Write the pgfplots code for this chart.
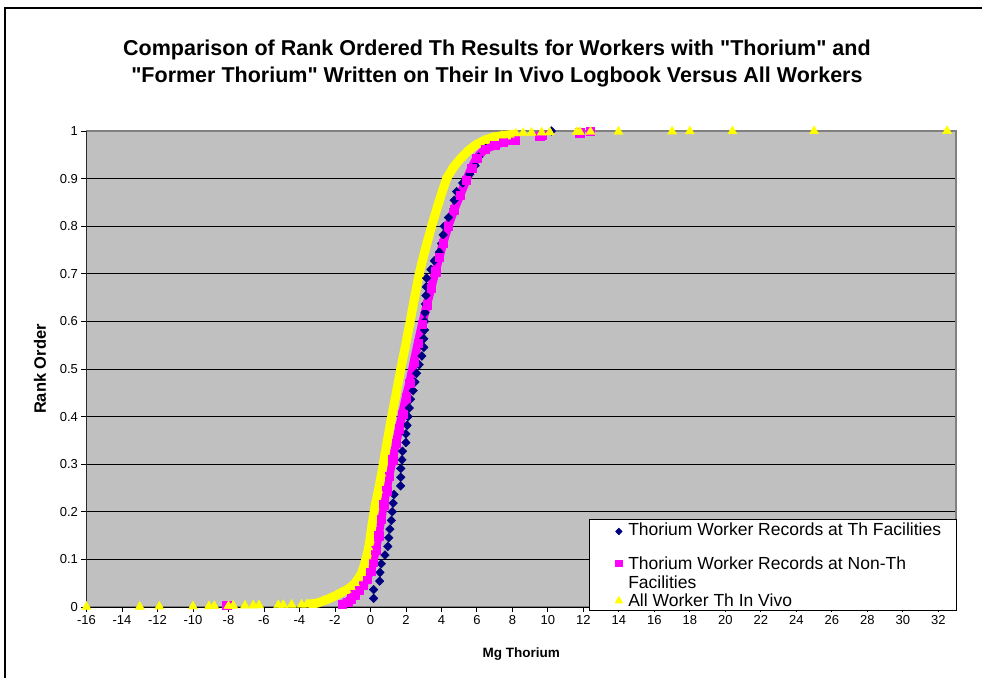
\documentclass[border=0pt]{standalone}
\usepackage{fontspec}
\setmainfont{Liberation Sans}
\usepackage{pgfplots}
\pgfplotsset{compat=1.18}
\definecolor{plotgray}{RGB}{192,192,192}
\definecolor{navyX}{RGB}{0,0,128}
\definecolor{magentaX}{RGB}{255,0,255}
\definecolor{yellowX}{RGB}{255,255,0}
\definecolor{frameGray}{RGB}{128,128,128}
\pgfplotsset{
  legsmall/.style={legend image code/.code={\path (0pt,-6pt) (36pt,6pt); \draw[##1, mark size=3.2pt] plot coordinates {(29pt,6pt)};}},
  legpink/.style={legend image code/.code={\path (0pt,-9.5pt) (36pt,9.5pt); \draw[##1, mark size=3.2pt] plot coordinates {(29pt,9.5pt)};}},
  legtri/.style={legend image code/.code={\path (0pt,-5pt) (36pt,5pt); \draw[##1, mark size=4.2pt] plot coordinates {(29pt,0pt)};}},
}
\begin{document}
\begin{tikzpicture}
\useasboundingbox (-86.5pt,-70pt) rectangle (895.5pt,607pt);
\draw[line width=2pt] (-81.5pt,-75pt) -- (-81.5pt,599pt) -- (900pt,599pt);
\begin{axis}[
  at={(0pt,0pt)}, anchor=south west,
  scale only axis, width=869.5pt, height=476pt,
  xmin=-16, xmax=33, ymin=0, ymax=1,
  xtick={-16,-14,...,32},
  ytick={0,0.1,0.2,0.3,0.4,0.5,0.6,0.7,0.8,0.9,1},
  /pgf/number format/assume math mode=true,
  ticklabel style={font=\fontsize{13}{15}\selectfont},
  axis background/.style={fill=plotgray},
  axis line style={frameGray, line width=1.5pt},
  ymajorgrids, grid style={black, line width=0.8pt},
  tick pos=left, tick align=outside, major tick length=5pt,
  tick style={black, line width=0.8pt},
  title={Comparison of Rank Ordered Th Results for Workers with \textquotedbl Thorium\textquotedbl\ and\\\textquotedbl Former Thorium\textquotedbl\ Written on Their In Vivo Logbook Versus All Workers},
  title style={at={(axis description cs:0.472,1.129)}, anchor=center, align=center, font=\bfseries\fontsize{21.5}{26.6}\selectfont},
  xlabel={Mg Thorium},
  xlabel style={at={(axis description cs:0.5,-0.0987)}, anchor=center, font=\bfseries\fontsize{13.5}{16}\selectfont},
  ylabel={Rank Order},
  ylabel style={at={(axis description cs:-0.0535,0.5)}, anchor=center, font=\bfseries\fontsize{16.5}{19}\selectfont},
  legend cell align=left,
  legend style={at={(axis description cs:0.578,0.185)}, anchor=north west, draw=black, line width=0.8pt, fill=white,
    font=\fontsize{17.5}{19}\selectfont, cells={align=left}, inner xsep=0pt, inner ysep=1pt, row sep=0pt},
]
\draw[black, line width=1pt] (rel axis cs:0,1) -- (rel axis cs:0,0) -- (rel axis cs:1,0);
% Series 1: Thorium Worker Records at Th Facilities (55 records)
\addplot[only marks, mark=diamond*, mark size=4.4pt, color=navyX, mark options={xscale=1.3}, legsmall] table {
x y
0.18 0.0182
0.18 0.0364
0.52 0.0545
0.54 0.0727
0.61 0.0909
0.82 0.1091
0.98 0.1273
1.03 0.1455
1.10 0.1636
1.18 0.1818
1.23 0.2000
1.28 0.2182
1.33 0.2364
1.70 0.2545
1.71 0.2727
1.71 0.2909
1.78 0.3091
1.81 0.3273
2.00 0.3455
2.00 0.3636
2.07 0.3818
2.13 0.4000
2.19 0.4182
2.26 0.4364
2.41 0.4545
2.51 0.4727
2.60 0.4909
2.75 0.5091
2.90 0.5273
3.01 0.5455
3.01 0.5636
3.05 0.5818
3.05 0.6000
3.08 0.6182
3.10 0.6364
3.13 0.6545
3.15 0.6727
3.17 0.6909
3.41 0.7091
3.60 0.7273
3.88 0.7455
4.00 0.7636
4.10 0.7818
4.16 0.8000
4.40 0.8182
4.70 0.8364
4.72 0.8545
4.86 0.8727
5.20 0.8909
5.60 0.9091
5.90 0.9273
6.10 0.9455
6.50 0.9636
7.50 0.9818
10.20 1.0000
};
\addlegendentry{Thorium Worker Records at Th Facilities\hspace*{13pt}\\[-3pt]\mbox{}}
% Series 2: Thorium Worker Records at Non-Th Facilities (dense part)
\addplot[magentaX, line width=8.5pt, line join=round, mark=square*, mark size=4.2pt,
  mark options={solid, line width=0.1pt}, forget plot] table {
x y
-1.60 0.006
-1.30 0.010
-1.10 0.018
-0.90 0.026
-0.65 0.036
-0.40 0.047
-0.20 0.060
0.00 0.075
0.15 0.095
0.30 0.120
0.45 0.150
0.60 0.185
0.75 0.215
0.90 0.245
1.05 0.275
1.25 0.310
1.45 0.345
1.62 0.375
1.80 0.405
2.00 0.440
2.20 0.470
2.45 0.515
2.68 0.555
2.92 0.595
3.18 0.635
3.42 0.670
3.66 0.705
3.88 0.735
4.10 0.765
4.38 0.800
4.72 0.835
5.05 0.865
5.40 0.897
5.70 0.922
5.98 0.943
6.45 0.962
7.00 0.970
7.48 0.977
8.14 0.982
};
\addplot[only marks, mark=square*, mark size=4.2pt, color=magentaX, legpink] table {
x y
-8.10 0.004
9.55 0.989
9.65 0.991
11.80 0.996
12.40 0.999
};
\addlegendentry{Thorium Worker Records at Non-Th\\Facilities}
% Series 3: All Worker Th In Vivo (dense part)
\addplot[yellowX, line width=9pt, line join=round, mark=triangle*, mark size=5.3pt,
  mark options={solid, line width=0.1pt}, forget plot] table {
x y
-3.50 0.006
-3.00 0.008
-2.65 0.013
-2.30 0.018
-1.90 0.025
-1.60 0.031
-1.34 0.036
-1.10 0.042
-0.87 0.050
-0.68 0.060
-0.50 0.071
-0.35 0.088
-0.21 0.106
-0.10 0.125
-0.03 0.141
0.10 0.175
0.25 0.210
0.45 0.245
0.63 0.280
0.93 0.344
1.19 0.398
1.45 0.448
1.70 0.498
1.97 0.548
2.23 0.598
2.48 0.648
2.75 0.700
3.08 0.750
3.45 0.800
3.85 0.850
4.29 0.900
4.70 0.925
5.10 0.943
5.50 0.958
5.90 0.970
6.40 0.980
6.92 0.987
7.40 0.990
7.86 0.992
8.20 0.995
};
\addplot[only marks, mark=triangle*, mark size=5.3pt, color=yellowX, legtri] table {
x y
-16.00 0.0003
-13.00 0.0007
-11.90 0.0010
-10.00 0.0013
-9.10 0.0017
-8.80 0.0020
-8.00 0.0023
-7.73 0.0027
-7.07 0.0030
-6.60 0.0033
-6.28 0.0037
-5.19 0.0040
-4.91 0.0043
-4.44 0.0047
-3.88 0.0050
-3.59 0.0053
8.61 0.9960
9.08 0.9965
9.65 0.9970
10.11 0.9973
11.62 0.9977
11.80 0.9980
12.40 0.9983
13.98 0.9987
17.00 0.9990
18.00 0.9993
20.40 0.9995
25.00 0.9997
32.50 1.0000
};
\addlegendentry{All Worker Th In Vivo}
\end{axis}
\end{tikzpicture}
\end{document}
